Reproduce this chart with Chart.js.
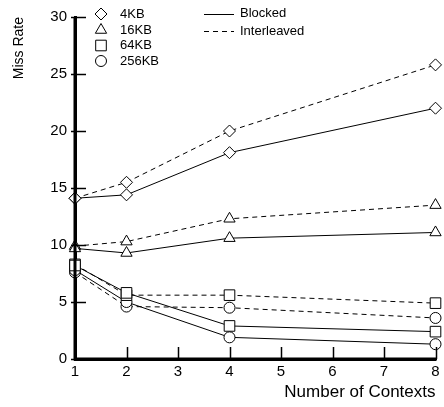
<!DOCTYPE html>
<html>
<head>
<meta charset="utf-8">
<script src="https://cdn.jsdelivr.net/npm/chart.js@4/dist/chart.umd.min.js"></script>
<style>
html,body{margin:0;padding:0;background:#fff;}
#wrap{width:444px;height:407px;}
</style>
</head>
<body>
<div id="wrap"><canvas id="c" width="444" height="407"></canvas></div>
<script>
const contexts = [1, 2, 4, 8];
const xTicks = [1, 2, 3, 4, 5, 6, 7, 8];
const yTicks = [0, 5, 10, 15, 20, 25, 30];

const kb4Blocked   = [14.1, 14.4, 18.1, 22.0];
const kb4Inter     = [14.1, 15.5, 20.0, 25.8];
const kb16Blocked  = [9.7, 9.3, 10.6, 11.1];
const kb16Inter    = [9.9, 10.3, 12.3, 13.5];
const kb64Blocked  = [8.2, 5.8, 2.9, 2.4];
const kb64Inter    = [8.3, 5.6, 5.6, 4.9];
const kb256Blocked = [7.8, 5.0, 1.9, 1.3];
const kb256Inter   = [7.6, 4.6, 4.5, 3.6];

const sizeLabels = ['4KB', '16KB', '64KB', '256KB'];
const styleLabels = ['Blocked', 'Interleaved'];

const FONT = '"Liberation Sans", Arial, sans-serif';
const markers = [
  {style: 'rectRot', r: 6},
  {style: 'triangle', r: 6.5},
  {style: 'rect', r: 7.5},
  {style: 'circle', r: 5.5}
];
const series = [
  [kb4Blocked, kb4Inter],
  [kb16Blocked, kb16Inter],
  [kb64Blocked, kb64Inter],
  [kb256Blocked, kb256Inter]
];

const datasets = [];
series.forEach((pair, i) => {
  pair.forEach((vals, j) => {
    datasets.push({
      label: sizeLabels[i] + ' ' + styleLabels[j],
      data: contexts.map((x, k) => ({x: x, y: vals[k]})),
      borderColor: '#000',
      borderWidth: 1,
      borderDash: j === 1 ? [5, 4] : [],
      pointStyle: markers[i].style,
      pointRadius: markers[i].r,
      pointHoverRadius: markers[i].r,
      pointBackgroundColor: '#fff',
      pointBorderColor: '#000',
      pointBorderWidth: 1,
      tension: 0,
      fill: false,
      clip: false
    });
  });
});

const customPlugin = {
  id: 'custom',
  afterDraw(chart) {
    const ctx = chart.ctx;
    const xs = chart.scales.x, ys = chart.scales.y;
    const area = chart.chartArea;
    ctx.save();
    ctx.strokeStyle = '#000';
    ctx.setLineDash([]);
    // axis lines redrawn on top of markers
    ctx.lineWidth = 3;
    ctx.beginPath();
    ctx.moveTo(area.left, area.top);
    ctx.lineTo(area.left, area.bottom + 1.5);
    ctx.moveTo(area.left - 1.5, area.bottom);
    ctx.lineTo(area.right + 1.5, area.bottom);
    ctx.stroke();
    ctx.lineWidth = 1.5;
    yTicks.forEach(v => {
      const py = Math.round(ys.getPixelForValue(v)) + 0.5;
      ctx.beginPath();
      ctx.moveTo(area.left - 4, py);
      ctx.lineTo(area.left + 11, py);
      ctx.stroke();
    });
    xTicks.forEach(v => {
      const px = Math.round(xs.getPixelForValue(v)) + 0.5;
      ctx.beginPath();
      ctx.moveTo(px, area.bottom);
      ctx.lineTo(px, area.bottom - 12);
      ctx.stroke();
    });
    // legend: sizes
    const rows = [14, 30, 45.5, 61];
    ctx.font = '13px ' + FONT;
    ctx.fillStyle = '#000';
    ctx.textBaseline = 'middle';
    ctx.textAlign = 'left';
    sizeLabels.forEach((lab, i) => {
      ctx.lineWidth = 1;
      ctx.fillStyle = '#fff';
      Chart.helpers.drawPoint(ctx, {pointStyle: markers[i].style, radius: markers[i].r, borderWidth: 1, rotation: 0}, 101, rows[i]);
      ctx.fillStyle = '#000';
      ctx.fillText(lab, 120, rows[i]);
    });
    // legend: line styles
    const lrows = [13.5, 31];
    lrows.forEach((ly, j) => {
      ctx.lineWidth = 1;
      ctx.setLineDash(j === 1 ? [5, 4] : []);
      ctx.beginPath();
      ctx.moveTo(204, Math.round(ly) + 0.5);
      ctx.lineTo(234, Math.round(ly) + 0.5);
      ctx.stroke();
      ctx.setLineDash([]);
      ctx.fillText(styleLabels[j], 240, ly);
    });
    ctx.restore();
  }
};

new Chart(document.getElementById('c'), {
  type: 'line',
  data: {datasets: datasets},
  options: {
    responsive: false,
    animation: false,
    layout: {padding: {left: 0, right: 8, top: 15, bottom: 0}},
    plugins: {legend: {display: false}, tooltip: {enabled: false}},
    scales: {
      x: {
        type: 'linear',
        min: 1, max: 8,
        afterFit(s) { s.height = 48; },
        afterBuildTicks(s) { s.ticks = xTicks.map(v => ({value: v})); },
        grid: {display: true, drawOnChartArea: false, drawTicks: false},
        border: {display: true, width: 3, color: '#000'},
        ticks: {color: '#000', padding: 4, font: {family: FONT, size: 15}, maxRotation: 0},
        title: {display: true, text: 'Number of Contexts', align: 'end', color: '#000',
                font: {family: FONT, size: 17}, padding: {top: 0, bottom: 4}}
      },
      y: {
        type: 'linear',
        min: 0, max: 30,
        afterFit(s) { s.width = 75; },
        afterBuildTicks(s) { s.ticks = yTicks.map(v => ({value: v})); },
        grid: {display: true, drawOnChartArea: false, drawTicks: false},
        border: {display: true, width: 3, color: '#000'},
        ticks: {color: '#000', padding: 8, font: {family: FONT, size: 15}},
        title: {display: true, text: 'Miss Rate', align: 'end', color: '#000',
                font: {family: FONT, size: 14}, padding: {top: 11, bottom: 0}}
      }
    }
  },
  plugins: [customPlugin]
});
</script>
</body>
</html>
